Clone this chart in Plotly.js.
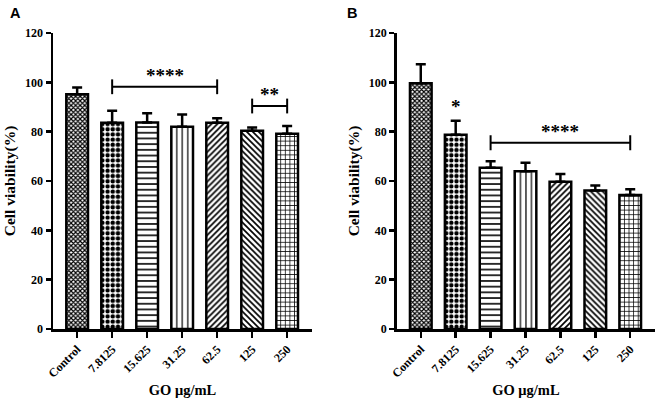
<!DOCTYPE html>
<html>
<head>
<meta charset="utf-8">
<script src="https://cdn.plot.ly/plotly-3.0.1.min.js"></script>
<style>html,body{margin:0;padding:0;background:#fff;}#chart{width:661px;height:405px;}</style>
</head>
<body>
<div id="chart"></div>
<script>
// ---- data ----
const categories = ["Control", "7.8125", "15.625", "31.25", "62.5", "125", "250"];
const viabilityA = [95.2, 83.6, 83.7, 82.0, 83.6, 80.4, 79.2];
const errorA     = [2.7, 4.9, 3.8, 5.0, 1.8, 1.3, 3.1];
const viabilityB = [99.6, 78.8, 65.4, 64.0, 59.7, 56.1, 54.3];
const errorB     = [7.7, 5.6, 2.6, 3.4, 3.1, 2.1, 2.4];
const yTicks = [0, 20, 40, 60, 80, 100, 120];
// significance brackets: from category, to category, level, label
const sigA = [
  {from: "7.8125", to: "62.5", y: 98.2, label: "****"},
  {from: "125", to: "250", y: 90.4, label: "**"}
];
const sigB = [
  {from: "15.625", to: "250", y: 75.5, label: "****"}
];
const starsB = [{at: "7.8125", y: 85, label: "*"}];

// ---- styles ----
const shapes = ["x", ".", "-", "|", "/", "\\", "+"];
const sizes = [3.2, 5.2, 5.7, 5.5, 4.2, 4.2, 4.6];
const solid = [0.6, 0.55, 0.28, 0.22, 0.4, 0.4, 0.3];
const serif = "Liberation Serif, Times New Roman, serif";
const idx = c => categories.indexOf(c);

function barTrace(vals, errs, xa, ya) {
  return {
    type: "bar", x: categories, y: vals, xaxis: xa, yaxis: ya, width: 0.62,
    marker: {
      color: "white",
      line: {color: "black", width: 2.5},
      pattern: {shape: shapes, size: sizes, solidity: solid, fgcolor: "black", bgcolor: "white", fillmode: "replace"}
    },
    error_y: {type: "data", array: errs, arrayminus: errs.map(() => 0), symmetric: false,
              color: "black", thickness: 2.5, width: 5},
    hoverinfo: "x+y", showlegend: false
  };
}

const data = [barTrace(viabilityA, errorA, "x", "y"), barTrace(viabilityB, errorB, "x2", "y2")];

function xAxis(domain, anchor) {
  return {
    domain: domain, anchor: anchor, type: "category", range: [-0.69, 6.71],
    showline: true, linecolor: "black", linewidth: 2.5,
    ticks: "outside", ticklen: 6, tickwidth: 2.5, tickcolor: "black",
    tickangle: -45, tickfont: {family: serif, size: 12, color: "black", weight: "bold"},
    showgrid: false, zeroline: false, fixedrange: true,
    title: {text: "<b>GO μg/mL</b>", font: {family: serif, size: 14.5, color: "black"}, standoff: 6}
  };
}
function yAxis(domain, anchor) {
  return {
    domain: domain, anchor: anchor, range: [0, 120], tickvals: yTicks, ticktext: yTicks.map(String),
    showline: true, linecolor: "black", linewidth: 2.5,
    ticks: "outside", ticklen: 5, tickwidth: 2.5, tickcolor: "black",
    tickfont: {family: serif, size: 12, color: "black", weight: "bold"},
    showgrid: false, zeroline: false, fixedrange: true,
    title: {text: "<b>Cell viability(%)</b>", font: {family: serif, size: 15.5, color: "black"}, standoff: 6}
  };
}

const shapesList = [];
const annotations = [];
function addBrackets(list, xr, yr) {
  list.forEach(s => {
    const i0 = idx(s.from), i1 = idx(s.to);
    const common = {type: "line", xref: xr, yref: yr, line: {color: "black", width: 2}};
    shapesList.push(Object.assign({x0: i0, x1: i1, y0: s.y, y1: s.y}, common));
    shapesList.push(Object.assign({x0: i0, x1: i0, y0: s.y - 3, y1: s.y + 3}, common));
    shapesList.push(Object.assign({x0: i1, x1: i1, y0: s.y - 3, y1: s.y + 3}, common));
    annotations.push({xref: xr, yref: yr, x: (i0 + i1) / 2, y: s.y - 0.6, yanchor: "bottom", showarrow: false,
      text: "<b>" + s.label + "</b>", font: {family: serif, size: 19, color: "black"}});
  });
}
addBrackets(sigA, "x", "y");
addBrackets(sigB, "x2", "y2");
starsB.forEach(s => annotations.push({xref: "x2", yref: "y2", x: idx(s.at), y: s.y, yanchor: "bottom", showarrow: false,
  text: "<b>" + s.label + "</b>", font: {family: serif, size: 19, color: "black"}}));

annotations.push({xref: "paper", yref: "paper", x: 15 / 661, y: 1 - 13 / 405, xanchor: "center", yanchor: "middle",
  showarrow: false, text: "<b>A</b>", font: {family: "Liberation Sans, Arial, sans-serif", size: 14.5, color: "black"}});
annotations.push({xref: "paper", yref: "paper", x: 352 / 661, y: 1 - 13 / 405, xanchor: "center", yanchor: "middle",
  showarrow: false, text: "<b>B</b>", font: {family: "Liberation Sans, Arial, sans-serif", size: 14.5, color: "black"}});

const yDom = [76 / 405, 372 / 405];
const layout = {
  width: 661, height: 405, margin: {l: 0, r: 0, t: 0, b: 0},
  paper_bgcolor: "white", plot_bgcolor: "white",
  xaxis: xAxis([53 / 661, 312 / 661], "y"),
  yaxis: yAxis(yDom, "x"),
  xaxis2: xAxis([396.7 / 661, 655 / 661], "y2"),
  yaxis2: yAxis(yDom, "x2"),
  bargap: 0.38,
  shapes: shapesList, annotations: annotations
};

Plotly.newPlot("chart", data, layout, {displayModeBar: false, staticPlot: true});
</script>
</body>
</html>
